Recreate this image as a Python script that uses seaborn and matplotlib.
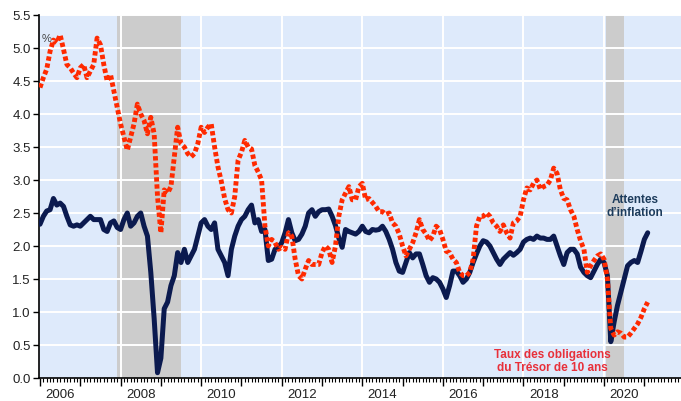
import numpy as np
import pandas as pd
import matplotlib
matplotlib.use("Agg")
import matplotlib.pyplot as plt
from matplotlib.ticker import MultipleLocator, FixedLocator
import seaborn as sns

# Monthly observations, January 2006 onwards
start_year = 2006

inflation_expectations = [
    2.33, 2.45, 2.53, 2.55, 2.72, 2.62, 2.65, 2.60, 2.45, 2.32, 2.30, 2.32,  # 2006
    2.30, 2.35, 2.40, 2.45, 2.40, 2.40, 2.40, 2.25, 2.22, 2.35, 2.38, 2.28,  # 2007
    2.25, 2.40, 2.50, 2.30, 2.35, 2.45, 2.50, 2.30, 2.15, 1.60, 0.90, 0.08,  # 2008
    0.30, 1.05, 1.15, 1.40, 1.55, 1.90, 1.75, 1.95, 1.75, 1.85, 1.95, 2.15,  # 2009
    2.35, 2.40, 2.30, 2.25, 2.35, 1.95, 1.85, 1.75, 1.55, 1.95, 2.15, 2.30,  # 2010
    2.40, 2.45, 2.55, 2.62, 2.35, 2.40, 2.22, 2.25, 1.78, 1.80, 1.95, 1.98,  # 2011
    2.05, 2.20, 2.40, 2.20, 2.08, 2.10, 2.18, 2.30, 2.50, 2.55, 2.45, 2.52,  # 2012
    2.55, 2.55, 2.56, 2.45, 2.31, 2.12, 1.98, 2.25, 2.22, 2.20, 2.18, 2.22,  # 2013
    2.30, 2.22, 2.20, 2.25, 2.24, 2.25, 2.30, 2.22, 2.10, 1.95, 1.75, 1.62,  # 2014
    1.60, 1.75, 1.90, 1.82, 1.88, 1.88, 1.72, 1.55, 1.45, 1.52, 1.50, 1.45,  # 2015
    1.35, 1.22, 1.40, 1.62, 1.62, 1.55, 1.45, 1.50, 1.60, 1.75, 1.88, 2.00,  # 2016
    2.08, 2.06, 2.00, 1.90, 1.80, 1.72, 1.80, 1.85, 1.90, 1.86, 1.90, 1.95,  # 2017
    2.06, 2.10, 2.12, 2.10, 2.15, 2.12, 2.12, 2.10, 2.10, 2.15, 2.00, 1.85,  # 2018
    1.72, 1.90, 1.95, 1.95, 1.88, 1.68, 1.60, 1.55, 1.52, 1.62, 1.72, 1.80,  # 2019
    1.75, 1.55, 0.55, 0.85, 1.10, 1.30, 1.50, 1.70, 1.75, 1.78, 1.75, 1.92,  # 2020
    2.10, 2.20,                                                              # 2021
]

treasury_10y = [
    4.40, 4.55, 4.68, 4.95, 5.12, 5.08, 5.20, 4.98, 4.75, 4.70, 4.62, 4.55,  # 2006
    4.70, 4.75, 4.55, 4.65, 4.75, 5.15, 5.05, 4.75, 4.50, 4.60, 4.35, 4.10,  # 2007
    3.85, 3.65, 3.45, 3.65, 3.85, 4.15, 4.00, 3.90, 3.70, 3.95, 3.70, 2.75,  # 2008
    2.20, 2.85, 2.80, 2.90, 3.35, 3.80, 3.55, 3.50, 3.40, 3.35, 3.40, 3.55,  # 2009
    3.80, 3.72, 3.80, 3.85, 3.50, 3.20, 2.98, 2.72, 2.55, 2.50, 2.75, 3.30,  # 2010
    3.42, 3.60, 3.50, 3.47, 3.22, 3.12, 3.00, 2.30, 2.00, 2.10, 2.05, 1.95,  # 2011
    1.98, 1.95, 2.20, 2.15, 1.80, 1.55, 1.50, 1.65, 1.78, 1.72, 1.72, 1.72,  # 2012
    1.90, 2.00, 1.95, 1.75, 2.00, 2.45, 2.70, 2.80, 2.90, 2.70, 2.70, 2.90,  # 2013
    2.95, 2.70, 2.72, 2.66, 2.60, 2.52, 2.52, 2.48, 2.50, 2.35, 2.30, 2.18,  # 2014
    2.00, 1.85, 1.95, 2.05, 2.20, 2.40, 2.25, 2.18, 2.08, 2.15, 2.30, 2.25,  # 2015
    2.10, 1.92, 1.90, 1.80, 1.75, 1.60, 1.55, 1.55, 1.60, 1.80, 2.30, 2.45,  # 2016
    2.45, 2.50, 2.45, 2.35, 2.30, 2.22, 2.32, 2.20, 2.12, 2.35, 2.38, 2.45,  # 2017
    2.70, 2.88, 2.85, 2.95, 3.00, 2.86, 2.90, 2.92, 3.00, 3.18, 3.10, 2.85,  # 2018
    2.72, 2.70, 2.55, 2.45, 2.25, 2.08, 1.95, 1.60, 1.70, 1.78, 1.85, 1.88,  # 2019
    1.80, 1.50, 0.75, 0.65, 0.70, 0.68, 0.62, 0.62, 0.68, 0.75, 0.82, 0.92,  # 2020
    1.05, 1.15,                                                              # 2021
]

recessions = [(2007.9, 2009.5), (2020.05, 2020.5)]
year_labels = [2006, 2008, 2010, 2012, 2014, 2016, 2018, 2020]
y_ticks = [0.0, 0.5, 1.0, 1.5, 2.0, 2.5, 3.0, 3.5, 4.0, 4.5, 5.0, 5.5]

n = len(inflation_expectations)
df = pd.DataFrame({
    "date": start_year + np.arange(n) / 12.0,
    "inflation": inflation_expectations,
    "treasury": treasury_10y,
})

sns.set_theme(style="white")
plt.rcParams["font.family"] = ["Liberation Sans", "DejaVu Sans"]

W, H = 681, 402
fig = plt.figure(figsize=(W / 100, H / 100), dpi=100)
ax = fig.add_axes([39 / W, 23 / H, 642 / W, 363 / H])
ax.set_facecolor("#deeafb")

x0 = 2006 - 1 / 40.29
ax.set_xlim(x0, x0 + 642 / 40.29)
ax.set_ylim(0, 5.5)

# recession shading
for a, b in recessions:
    ax.axvspan(a, b, color="#cccccc", lw=0, zorder=0.3)

# grid
for yv in y_ticks[1:]:
    ax.axhline(yv, color="white", lw=1.4, zorder=0.6)
for yr in year_labels[1:]:
    ax.axvline(yr, color="white", lw=1.4, zorder=0.6)

sns.lineplot(data=df, x="date", y="inflation", color="#0b1a4f", lw=3.6,
             ax=ax, zorder=3)
sns.lineplot(data=df, x="date", y="treasury", color="#ff2a00", lw=3.5,
             linestyle=(0, (0.9, 0.55)), ax=ax, zorder=4)

ax.set_xlabel("")
ax.set_ylabel("")

# spines
for side in ("top", "right"):
    ax.spines[side].set_visible(False)
for side in ("left", "bottom"):
    ax.spines[side].set_color("black")
    ax.spines[side].set_linewidth(1.2)

# y axis
ax.yaxis.set_major_locator(FixedLocator(y_ticks))
ax.set_yticklabels([f"{v:.1f}" for v in y_ticks])
ax.tick_params(axis="y", which="major", direction="out", length=4, width=1,
               color="black", pad=2, labelsize=9.5, labelcolor="#222222",
               left=True)

# x axis: yearly major ticks, monthly minor ticks, labels centred on the year
ax.xaxis.set_major_locator(MultipleLocator(1))
ax.xaxis.set_minor_locator(MultipleLocator(1 / 12))
ax.set_xticklabels([])
ax.tick_params(axis="x", which="major", direction="out", length=5.5, width=1,
               color="black", bottom=True)
ax.tick_params(axis="x", which="minor", direction="out", length=2.8, width=0.8,
               color="black", bottom=True)
xform = ax.get_xaxis_transform()
for yr in year_labels:
    ax.text(yr + 0.5, -22.5 / 363, str(yr), transform=xform, ha="center",
            va="bottom", fontsize=9.5, color="#222222")

ax.text(8 / 642, 340 / 363, "%", transform=ax.transAxes, ha="center",
        va="center", fontsize=8, color="#444444")

ax.text(2020.77, 2.61, "Attentes\nd\u2019inflation", ha="center", va="center",
        fontsize=8.5, fontweight="bold", color="#1d3c5c", linespacing=1.15,
        zorder=5)
ax.text(2018.71, 0.27, "Taux des obligations\ndu Trésor de 10 ans",
        ha="center", va="center", fontsize=8.5, fontweight="bold",
        color="#e8303a", linespacing=1.15, zorder=5)

fig.savefig("out.png", dpi=100, facecolor="white")
